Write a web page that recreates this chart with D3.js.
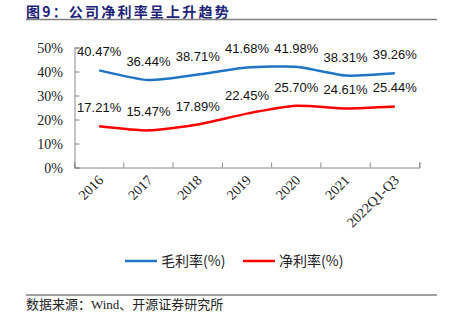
<!DOCTYPE html>
<html><head><meta charset="utf-8">
<script src="https://cdn.jsdelivr.net/npm/d3@7"></script>
<style>body{margin:0;background:#fff}svg{display:block}</style>
</head><body>
<svg id="c" width="453" height="326"></svg>
<script>
const categories = ["2016","2017","2018","2019","2020","2021","2022Q1-Q3"];
const grossMargin = [40.47,36.44,38.71,41.68,41.98,38.31,39.26];
const netMargin = [17.21,15.47,17.89,22.45,25.70,24.61,25.44];
const yTicks = [0,10,20,30,40,50];
const seriesNames = ["毛利率(%)","净利率(%)"];
const colors = ["#1f74c4","#ff0000"];

const svg = d3.select("#c");
const x = d3.scaleBand().domain(categories).range([74.5,419.5]);
const y = d3.scaleLinear().domain([0,50]).range([167.5,47.5]);

// title
svg.append("text").attr("x",26).attr("y",16.5).attr("font-family","Noto Sans CJK SC").attr("font-weight","bold")
  .attr("font-size",14).attr("letter-spacing",2.2).attr("fill","#1c2378").text("图9：公司净利率呈上升趋势");
svg.append("line").attr("x1",26).attr("x2",437).attr("y1",19.5).attr("y2",19.5).attr("stroke","#808080").attr("stroke-width",1.5);
svg.append("line").attr("x1",26).attr("x2",437).attr("y1",295).attr("y2",295).attr("stroke","#404040").attr("stroke-width",1.2);
svg.append("text").attr("x",26).attr("y",309).attr("font-family","Liberation Serif, Noto Sans CJK SC").attr("font-size",13)
  .attr("fill","#222").text("数据来源：Wind、开源证券研究所");

// y axis
const ya = svg.append("g").attr("transform","translate(74.5,0)")
  .call(d3.axisRight(y).tickValues(yTicks).tickSize(5).tickFormat(""));
ya.select(".domain").attr("stroke","#888");
ya.selectAll(".tick line").attr("stroke","#888");
svg.append("g").selectAll("text").data(yTicks).join("text")
  .attr("x",63).attr("y",d=>y(d)+5).attr("text-anchor","end")
  .attr("font-family","Liberation Serif").attr("font-size",14).attr("fill","#222").text(d=>d+"%");

// x axis
const xa = svg.append("g").attr("transform","translate(0,167.5)")
  .call(d3.axisTop(x).tickSize(5).tickSizeOuter(5).tickFormat(""));
xa.select(".domain").attr("stroke","#888");
xa.selectAll(".tick line").attr("stroke","#888").attr("transform",d=>`translate(${-x.bandwidth()/2},0)`);
xa.append("line").attr("x1",419.5).attr("x2",419.5).attr("y1",0).attr("y2",-5).attr("stroke","#888");
svg.append("g").selectAll("text").data(categories).join("text")
  .attr("text-anchor","end")
  .attr("transform",d=>`translate(${x(d)+x.bandwidth()/2+5},${181}) rotate(-45)`)
  .attr("font-family","Liberation Serif").attr("font-size",14).attr("fill","#222").text(d=>d);

// lines
const series = [grossMargin, netMargin];
const line = d3.line().x((d,i)=>x(categories[i])+x.bandwidth()/2).y(d=>y(d)).curve(d3.curveCardinal.tension(0.4));
series.forEach((s,k)=>{
  svg.append("path").attr("d",line(s)).attr("fill","none").attr("stroke",colors[k]).attr("stroke-width",2.5);
  svg.append("g").selectAll("text").data(s).join("text")
    .attr("x",(d,i)=>x(categories[i])+x.bandwidth()/2).attr("y",d=>y(d)-14)
    .attr("text-anchor","middle").attr("font-family","Liberation Sans").attr("font-size",13).attr("fill","#111")
    .text(d=>d.toFixed(2)+"%");
});

// legend
const lg = [[125,161],[243,279]];
seriesNames.forEach((n,k)=>{
  svg.append("line").attr("x1",lg[k][0]).attr("x2",lg[k][0]+32).attr("y1",261).attr("y2",261).attr("stroke",colors[k]).attr("stroke-width",2.5);
  svg.append("text").attr("x",lg[k][1]).attr("y",266).attr("font-family","Noto Sans CJK SC").attr("font-size",14).attr("fill","#222").text(n);
});
</script>
</body></html>
